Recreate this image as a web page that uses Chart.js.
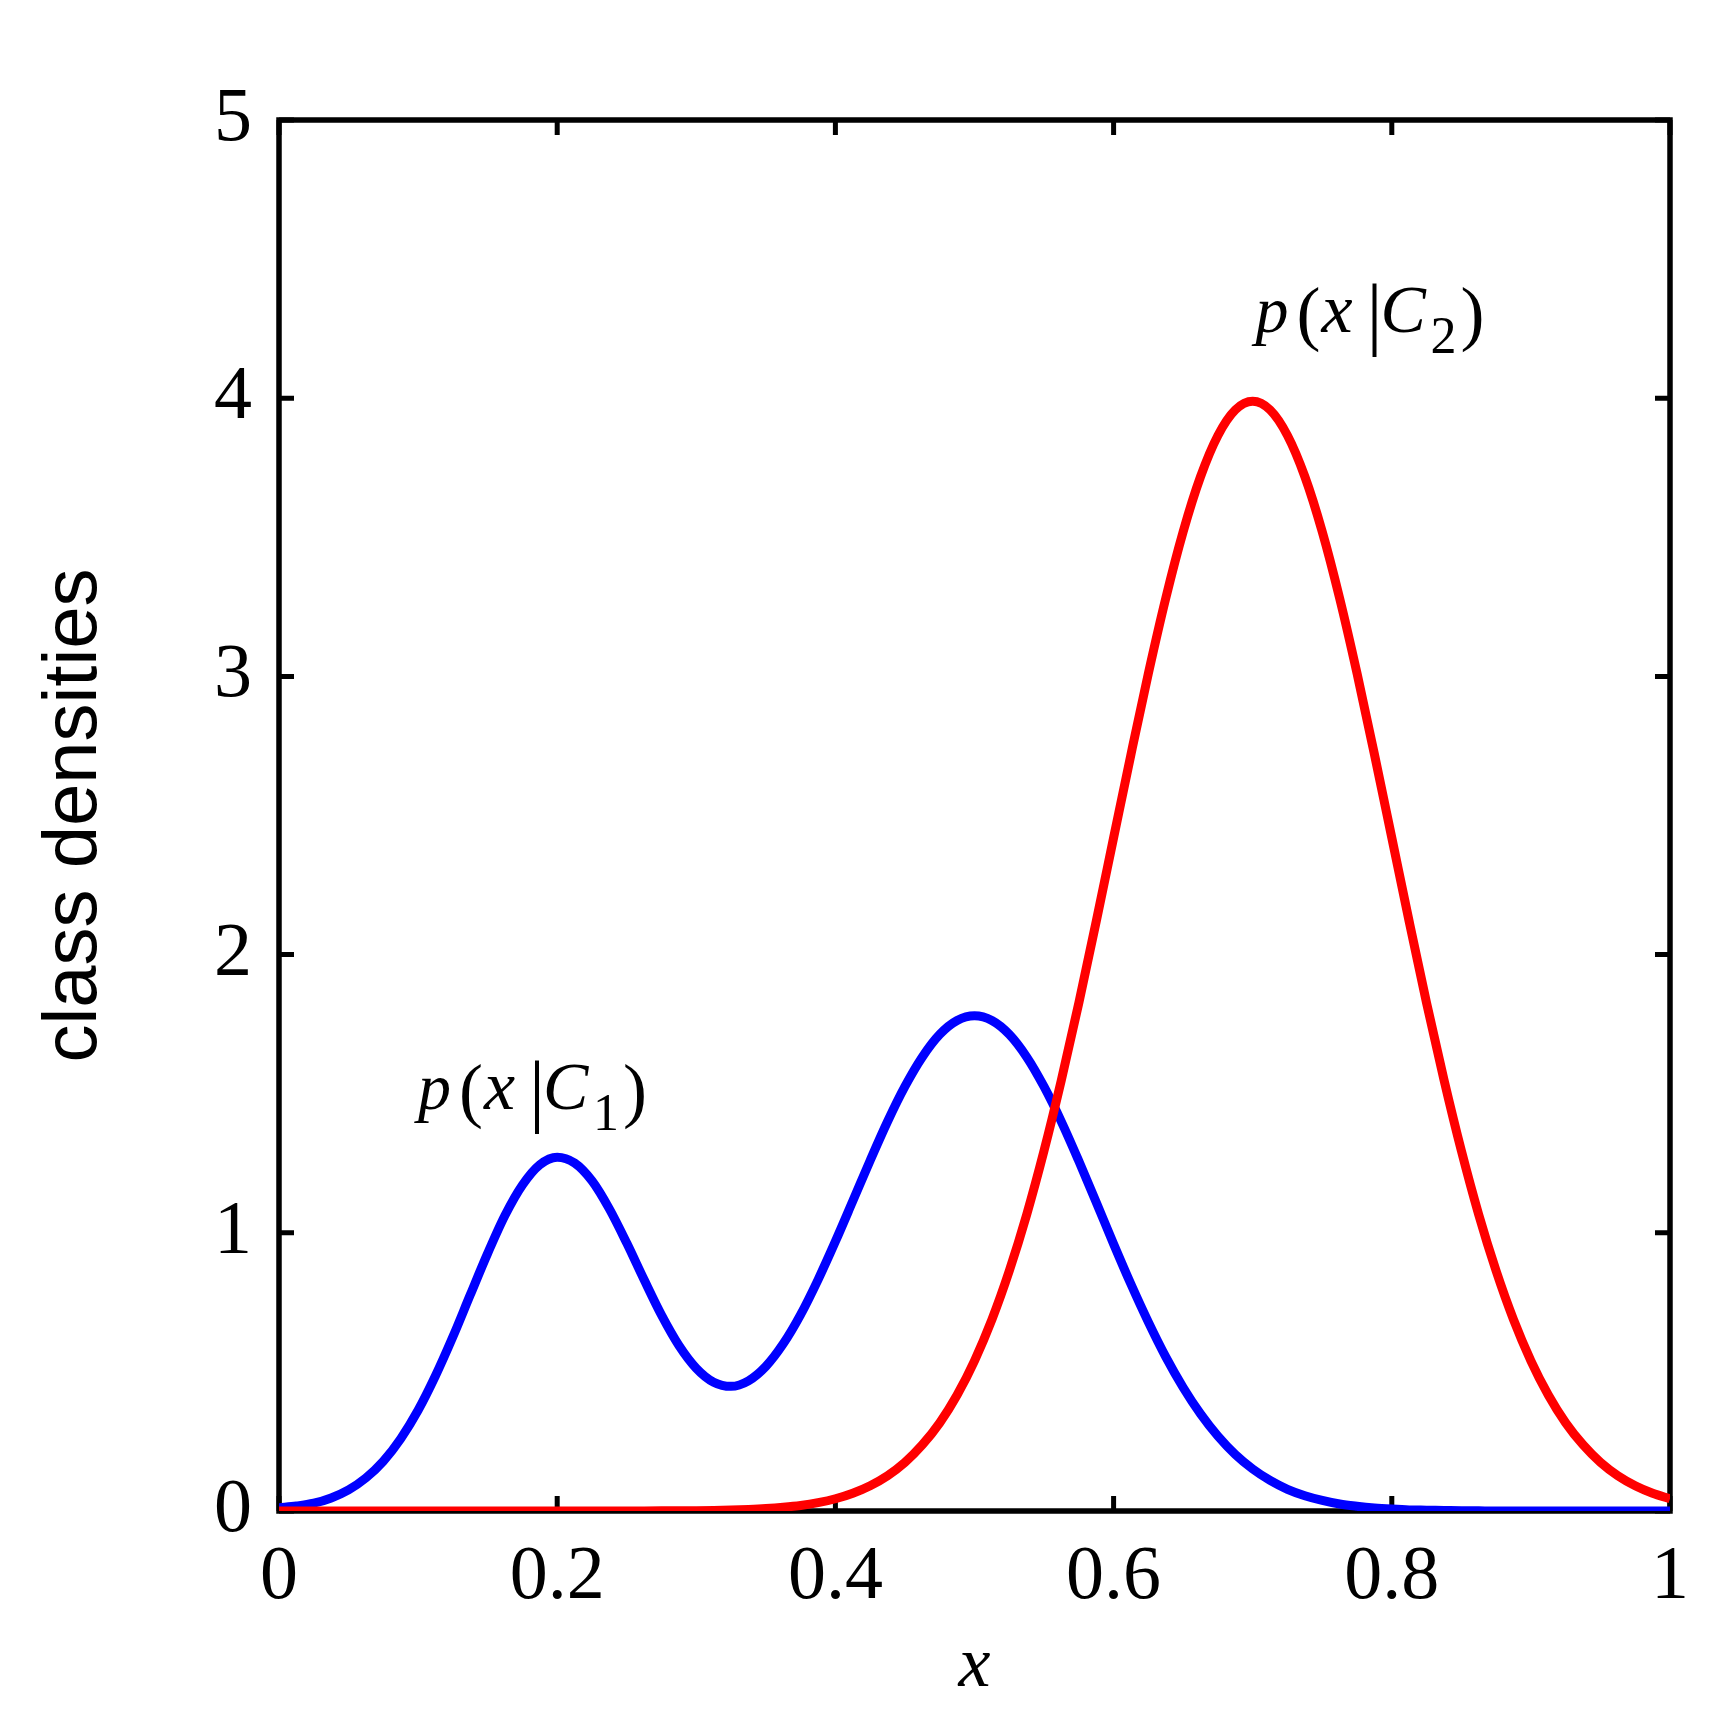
<!DOCTYPE html>
<html>
<head>
<meta charset="utf-8">
<script src="https://cdn.jsdelivr.net/npm/chart.js@4.4.1/dist/chart.umd.min.js"></script>
<style>
  html, body { margin: 0; padding: 0; background: #fff; }
  #wrap { width: 1717px; height: 1725px; }
</style>
</head>
<body>
<div id="wrap"><canvas id="densityChart" width="1717" height="1725"></canvas></div>
<script>
// values, x step 0.0125
const xValues = [0, 0.0125, 0.025, 0.0375, 0.05, 0.0625, 0.075, 0.0875, 0.1, 0.1125, 0.125, 0.1375, 0.15, 0.1625, 0.175, 0.1875,
  0.2, 0.2125, 0.225, 0.2375, 0.25, 0.2625, 0.275, 0.2875, 0.3, 0.3125, 0.325, 0.3375, 0.35, 0.3625, 0.375, 0.3875,
  0.4, 0.4125, 0.425, 0.4375, 0.45, 0.4625, 0.475, 0.4875, 0.5, 0.5125, 0.525, 0.5375, 0.55, 0.5625, 0.575, 0.5875,
  0.6, 0.6125, 0.625, 0.6375, 0.65, 0.6625, 0.675, 0.6875, 0.7, 0.7125, 0.725, 0.7375, 0.75, 0.7625, 0.775, 0.7875,
  0.8, 0.8125, 0.825, 0.8375, 0.85, 0.8625, 0.875, 0.8875, 0.9, 0.9125, 0.925, 0.9375, 0.95, 0.9625, 0.975, 0.9875, 1];
const class1 = [0.012, 0.018, 0.028, 0.047, 0.076, 0.119, 0.179, 0.260, 0.362, 0.486, 0.626, 0.777, 0.926, 1.063, 1.172, 1.245,
  1.272, 1.251, 1.187, 1.086, 0.963, 0.831, 0.704, 0.595, 0.513, 0.463, 0.448, 0.468, 0.520, 0.601, 0.706, 0.831,
  0.969, 1.114, 1.260, 1.400, 1.526, 1.632, 1.713, 1.763, 1.780, 1.763, 1.713, 1.632, 1.525, 1.399, 1.258, 1.110,
  0.960, 0.815, 0.679, 0.554, 0.444, 0.349, 0.269, 0.203, 0.151, 0.110, 0.078, 0.055, 0.038, 0.025, 0.017, 0.011,
  0.007, 0.004, 0.003, 0.002, 0.001, 0.0005, 0, 0, 0, 0, 0, 0, 0, 0, 0, 0, 0];
const class2 = [0, 0, 0, 0, 0, 0, 0, 0, 0, 0, 0, 0, 0, 0, 0, 0,
  0, 0, 0, 0.0001, 0.0002, 0.0003, 0.0005, 0.0008, 0.0013, 0.0022, 0.0035, 0.0056, 0.0087, 0.0134, 0.020, 0.030,
  0.044, 0.064, 0.091, 0.127, 0.175, 0.238, 0.317, 0.417, 0.540, 0.688, 0.863, 1.065, 1.295, 1.550, 1.826, 2.119,
  2.420, 2.720, 3.011, 3.281, 3.520, 3.718, 3.866, 3.958, 3.989, 3.958, 3.866, 3.718, 3.520, 3.281, 3.011, 2.720,
  2.420, 2.119, 1.826, 1.550, 1.295, 1.065, 0.863, 0.688, 0.540, 0.417, 0.317, 0.238, 0.175, 0.127, 0.091, 0.064, 0.044];

const xTicks = [0, 0.2, 0.4, 0.6, 0.8, 1];
const xTickLabels = ['0', '0.2', '0.4', '0.6', '0.8', '1'];
const yTicks = [0, 1, 2, 3, 4, 5];
const yTickLabels = ['0', '1', '2', '3', '4', '5'];

const serif = '"Liberation Serif", "Times New Roman", serif';

// box + inward ticks on all four sides
const framePlugin = {
  id: 'frame',
  beforeDatasetsDraw(chart) {
    const { ctx, chartArea: a, scales } = chart;
    ctx.save();
    ctx.strokeStyle = '#000';
    ctx.lineWidth = 5.5;
    ctx.strokeRect(a.left, a.top, a.right - a.left, a.bottom - a.top);
    const len = 15;
    ctx.lineWidth = 5;
    ctx.beginPath();
    xTicks.forEach(v => {
      const px = scales.x.getPixelForValue(v);
      ctx.moveTo(px, a.bottom); ctx.lineTo(px, a.bottom - len);
      ctx.moveTo(px, a.top); ctx.lineTo(px, a.top + len);
    });
    yTicks.forEach(v => {
      const py = scales.y.getPixelForValue(v);
      ctx.moveTo(a.left, py); ctx.lineTo(a.left + len, py);
      ctx.moveTo(a.right, py); ctx.lineTo(a.right - len, py);
    });
    ctx.stroke();
    ctx.restore();
  }
};

// p(x|C_k) labels
function drawDensityLabel(ctx, x0, y0, sub) {
  const parts = [
    { t: 'p', dx: 0, dy: 0, font: 'italic 66px ' + serif },
    { t: '(', dx: 41, dy: 5, font: '72px ' + serif },
    { t: 'x', dx: 66, dy: 0, font: 'italic 70px ' + serif },
    { t: '|', dx: 111, dy: 8, font: '80px ' + serif },
    { t: 'C', dx: 125, dy: 0, font: 'italic 68px ' + serif },
    { t: sub, dx: 175, dy: 21, font: '52px ' + serif },
    { t: ')', dx: 205, dy: 5, font: '72px ' + serif }
  ];
  ctx.save();
  ctx.fillStyle = '#000';
  ctx.textAlign = 'left';
  ctx.textBaseline = 'alphabetic';
  parts.forEach(p => {
    ctx.font = p.font;
    ctx.fillText(p.t, x0 + p.dx, y0 + p.dy);
  });
  ctx.restore();
}

const labelPlugin = {
  id: 'densityLabels',
  afterDatasetsDraw(chart) {
    const { ctx, scales } = chart;
    drawDensityLabel(ctx, scales.x.getPixelForValue(0.1), scales.y.getPixelForValue(1.445), '1');
    drawDensityLabel(ctx, scales.x.getPixelForValue(0.702), scales.y.getPixelForValue(4.239), '2');
  }
};

new Chart(document.getElementById('densityChart'), {
  type: 'line',
  data: {
    datasets: [
      {
        label: 'p(x|C1)',
        data: xValues.map((x, i) => ({ x: x, y: class1[i] })),
        borderColor: '#0000ff',
        borderWidth: 9,
        pointRadius: 0,
        fill: false,
        cubicInterpolationMode: 'monotone',
        clip: 0,
        order: 1
      },
      {
        label: 'p(x|C2)',
        data: xValues.map((x, i) => ({ x: x, y: class2[i] })),
        borderColor: '#ff0000',
        borderWidth: 9,
        pointRadius: 0,
        fill: false,
        cubicInterpolationMode: 'monotone',
        clip: 0,
        order: 0
      }
    ]
  },
  options: {
    responsive: false,
    devicePixelRatio: 1,
    animation: false,
    layout: { padding: { left: 0, top: 120, right: 47, bottom: 0 } },
    plugins: { legend: { display: false }, tooltip: { enabled: false } },
    scales: {
      x: {
        type: 'linear',
        min: 0,
        max: 1,
        afterBuildTicks: s => { s.ticks = xTicks.map(v => ({ value: v })); },
        afterFit: s => { s.height = 214; },
        grid: { display: false, drawTicks: false },
        border: { display: false },
        ticks: {
          color: '#000',
          font: { family: serif, size: 76 },
          padding: 21,
          maxRotation: 0,
          autoSkip: false,
          callback: (v, i) => xTickLabels[i]
        },
        title: {
          display: true,
          text: 'x',
          color: '#000',
          font: { family: serif, size: 72, style: 'italic' },
          padding: { top: 0, bottom: 15 }
        }
      },
      y: {
        type: 'linear',
        min: 0,
        max: 5,
        afterBuildTicks: s => { s.ticks = yTicks.map(v => ({ value: v })); },
        afterFit: s => { s.width = 279; },
        grid: { display: false, drawTicks: false },
        border: { display: false },
        ticks: {
          color: '#000',
          font: { family: serif, size: 76 },
          padding: 27,
          callback: (v, i) => yTickLabels[i]
        },
        title: {
          display: true,
          text: 'class densities',
          color: '#000',
          font: { family: '"Liberation Sans", Arial, sans-serif', size: 76 },
          padding: { top: 29, bottom: 0 }
        }
      }
    }
  },
  plugins: [framePlugin, labelPlugin]
});
</script>
</body>
</html>
